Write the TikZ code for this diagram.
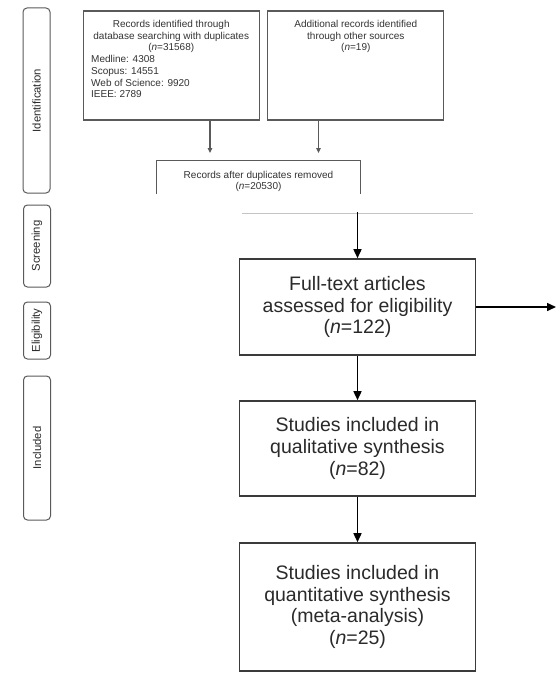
\documentclass[tikz,border=0pt]{standalone}
\usepackage{fontspec}
\setmainfont{Liberation Sans}
\usetikzlibrary{arrows.meta}
\definecolor{topline}{HTML}{5A5A5A}
\definecolor{toptext}{HTML}{333333}
\definecolor{lowline}{HTML}{3A3A3A}
\definecolor{lowtext}{HTML}{2A2A2A}
\definecolor{seam}{HTML}{C4C4C4}
\begin{document}
\begin{tikzpicture}[x=1pt,y=-1pt,
  topbox/.style={draw=topline, line width=1.1pt, minimum width=176pt, minimum height=109pt, inner sep=0pt},
  toptxt/.style={font=\fontsize{10}{11.7}\selectfont, text=toptext, inner sep=0pt},
  lowbox/.style={draw=lowline, line width=1.6pt, minimum width=236pt, inner sep=0pt,
     font=\fontsize{19.5}{21.7}\selectfont, text=lowtext, align=center},
  pill/.style={draw=topline, line width=1pt, rounded corners=4pt, inner sep=0pt,
     minimum height=27pt, font=\fontsize{11.3}{13}\selectfont, text=lowtext, rotate=90},
  toparrow/.style={draw=topline, line width=1.1pt, -{Triangle[length=5pt,width=4.5pt]}},
  lowarrow/.style={draw=black, line width=1.5pt, -{Triangle[length=9pt,width=8pt]}}
]
\useasboundingbox (0,0) rectangle (556,677);
\fill[white] (0,0) rectangle (556,677);

% phase pills
\node[pill, minimum width=185pt] (pid) at (36.5,100.5) {Identification};
\node[pill, minimum width=82pt] (psc) at (37,246) {Screening};
\node[pill, minimum width=57pt] (pel) at (37,330.5) {Eligibility};
\node[pill, minimum width=144pt] (pin) at (37,448) {Included};

% top boxes
\node[topbox] (box1) at (171.25,65.5) {};
\node[topbox] (box2) at (355.8,65.5) {};
% multi-line nodes: base anchor = baseline of the last line
\node[toptxt, align=center, anchor=base] (h1) at (171.25,51)
  {Records identified through\\database searching with duplicates\\(\textit{n}=31568)};
\node[toptxt, align=left, anchor=base west] (l1) at (91,97.8)
  {Medline: 4308\\Scopus: 14551\\Web of Science: 9920\\IEEE: 2789};
\node[toptxt, align=center, anchor=base] (h2) at (355.8,51)
  {Additional records identified\\through other sources\\(\textit{n}=19)};

% records after duplicates (cut off at bottom)
\node[minimum width=203pt, minimum height=33pt, inner sep=0pt] (box3) at (258.5,177.5) {};
\draw[topline, line width=1.1pt] (box3.south west) -- (box3.north west) -- (box3.north east) -- (box3.south east);
\node[toptxt, align=center, anchor=base] (h3) at (258.5,189.7)
  {Records after duplicates removed\\(\textit{n}=20530)};

\coordinate (a1) at (210,153);
\coordinate (a2) at (318.5,153);
\draw[toparrow] (box1.south -| a1) -- (a1);
\draw[toparrow] (box2.south -| a2) -- (a2);

% seam of the lower part
\draw[seam, line width=0.8pt] (242,213) -- (473,213);

% lower boxes
\node[lowbox, minimum height=96pt] (full) at (357.5,307)
  {Full-text articles\\assessed for eligibility\\(\textit{n}=122)};
\node[lowbox, minimum height=95pt] (qual) at (357.5,448.5)
  {Studies included in\\qualitative synthesis\\(\textit{n}=82)};
\node[lowbox, minimum height=128pt] (quan) at (357.5,607)
  {Studies included in\\quantitative synthesis\\(meta-analysis)\\(\textit{n}=25)};

\coordinate (c0) at (357.5,212);
\coordinate (rt) at (556,307);
\draw[lowarrow] (c0) -- (full.north);
\draw[lowarrow] (full.south) -- (qual.north);
\draw[lowarrow] (qual.south) -- (quan.north);
\draw[lowarrow] (full.east) -- (rt);
\end{tikzpicture}
\end{document}
